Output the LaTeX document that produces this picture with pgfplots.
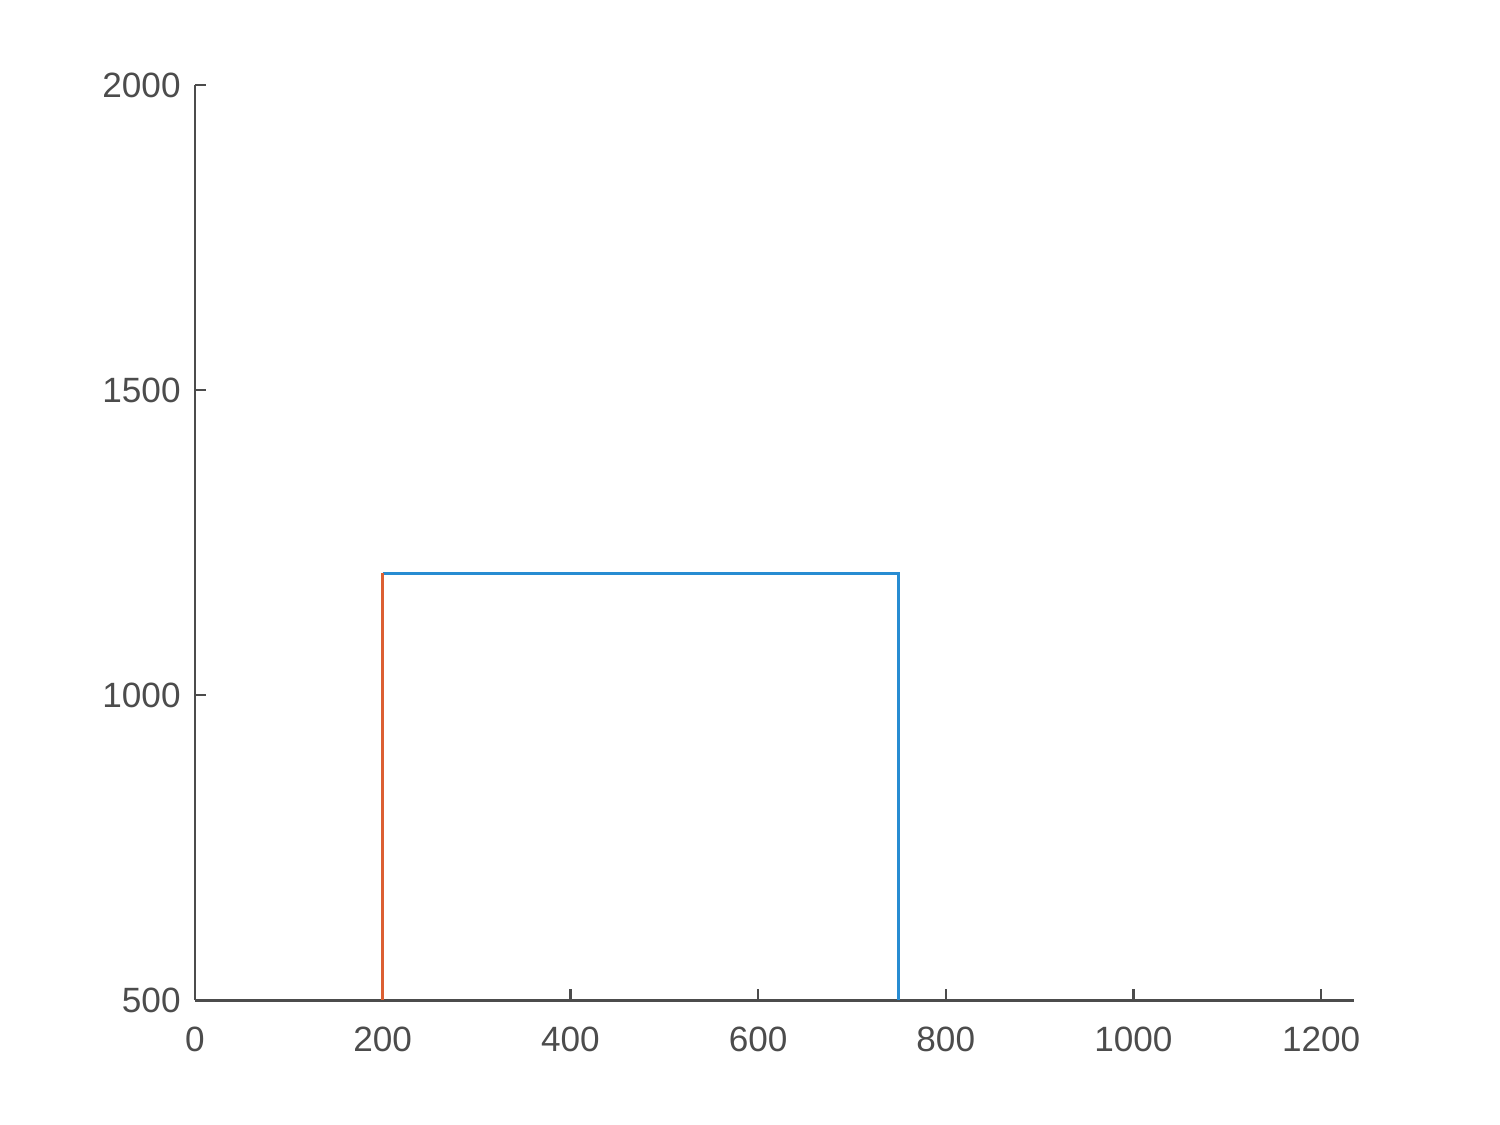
\documentclass[border=0pt]{standalone}
\usepackage{pgfplots}
\pgfplotsset{compat=1.18}
\usepackage{fontspec}
\setmainfont{Liberation Sans}

\definecolor{mblue}{RGB}{40,140,210}
\definecolor{morange}{RGB}{220,95,50}
\definecolor{axgray}{gray}{0.3}

\begin{document}
\begin{tikzpicture}
\path[use as bounding box] (0,0) rectangle (150mm,112.5mm);
\begin{axis}[
  at={(19.5mm,12.5mm)}, anchor=south west,
  scale only axis, width=115.9mm, height=91.5mm,
  xmin=0, xmax=1235, ymin=500, ymax=2000,
  xtick={0,200,...,1200}, ytick={500,1000,1500,2000},
  axis x line*=bottom, axis y line*=left,
  axis line style={axgray, line width=0.3mm},
  tick style={axgray, line width=0.25mm},
  tick align=inside, major tick length=1.1mm,
  ticklabel style={text=axgray, font=\fontsize{10}{12}\selectfont},
  xticklabel style={yshift=-1.5mm},
  yticklabel style={xshift=-0.2mm},
  /pgf/number format/assume math mode=true,
  /pgf/number format/set thousands separator={},
  clip=false,
]
\addplot[mblue, line width=0.3mm] coordinates {(200,1200) (750,1200) (750,500)};
\addplot[morange, line width=0.3mm] coordinates {(200,500) (200,1200)};
\end{axis}
\end{tikzpicture}
\end{document}
